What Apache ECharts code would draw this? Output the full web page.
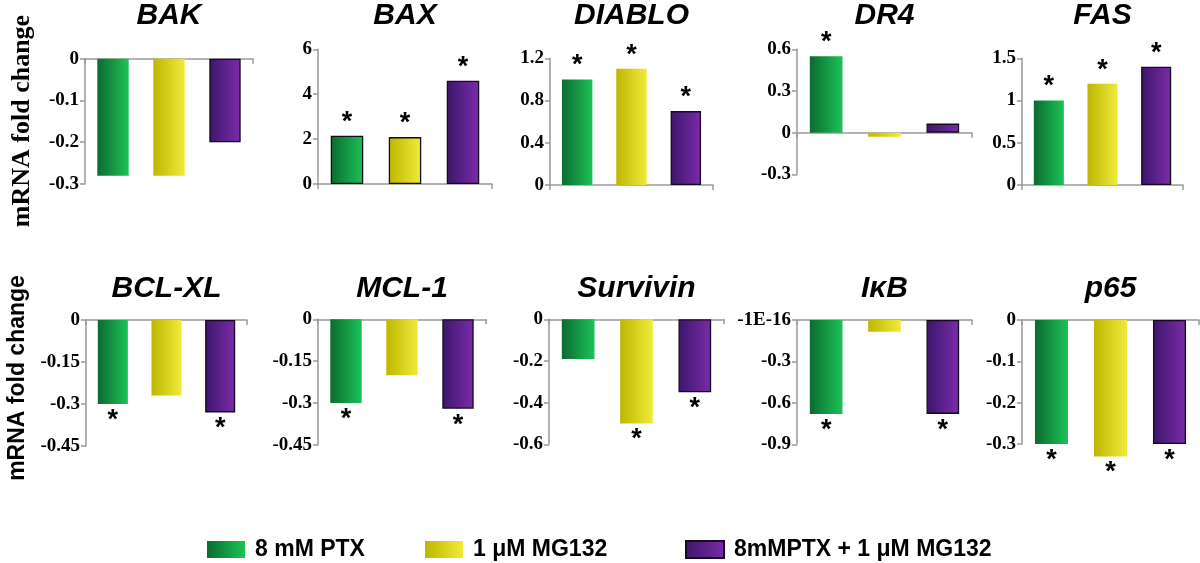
<!DOCTYPE html>
<html>
<head>
<meta charset="utf-8">
<script src="https://cdn.jsdelivr.net/npm/echarts@6/dist/echarts.min.js"></script>
<style>
html,body{margin:0;padding:0;background:#fff;}
#chart{width:1200px;height:563px;}
</style>
</head>
<body>
<div id="chart"></div>
<script>
// ---- data ----
const genes = ['BAK', 'BAX', 'DIABLO', 'DR4', 'FAS', 'BCL-XL', 'MCL-1', 'Survivin', 'IκB', 'p65'];
const treatments = ['8 mM PTX', '1 μM MG132', '8mMPTX + 1 μM MG132'];
const ptxValues   = [-0.28, 2.15, 1.0, 0.55, 1.0, -0.30, -0.30, -0.19, -0.68, -0.30];
const mg132Values = [-0.28, 2.09, 1.1, -0.03, 1.2, -0.27, -0.20, -0.50, -0.085, -0.33];
const comboValues = [-0.20, 4.6, 0.7, 0.065, 1.4, -0.33, -0.32, -0.35, -0.68, -0.30];
const ptxSig   = [false, true, true, true,  true, true,  true,  false, true,  true];
const mg132Sig = [false, true, true, false, true, false, false, true,  false, true];
const comboSig = [false, true, true, false, true, true,  true,  true,  true,  true];
const yMin  = [-0.3, 0, 0, -0.3, 0, -0.45, -0.45, -0.6, -0.9, -0.3];
const yMax  = [0, 6, 1.2, 0.6, 1.5, 0, 0, 0, 0, 0];
const yStep = [0.1, 2, 0.4, 0.3, 0.5, 0.15, 0.15, 0.2, 0.3, 0.1];
const tickLabels = [
  ['0', '-0.1', '-0.2', '-0.3'],
  ['6', '4', '2', '0'],
  ['1.2', '0.8', '0.4', '0'],
  ['0.6', '0.3', '0', '-0.3'],
  ['1.5', '1', '0.5', '0'],
  ['0', '-0.15', '-0.3', '-0.45'],
  ['0', '-0.15', '-0.3', '-0.45'],
  ['0', '-0.2', '-0.4', '-0.6'],
  ['-1E-16', '-0.3', '-0.6', '-0.9'],
  ['0', '-0.1', '-0.2', '-0.3']
];
const yAxisTitle = 'mRNA fold change';

// ---- layout (pixel boxes: x0, x1, y0, y1) ----
const boxes = [
  [85, 253, 58.7, 184], [318, 492, 49.3, 184], [550, 713, 58.3, 185], [797, 972, 49.3, 174.3], [1022, 1183, 58.3, 185],
  [86, 247, 320, 446], [318, 486, 319.3, 445], [549, 724, 319.3, 444.3], [797, 972, 320, 444.3], [1022, 1199, 320, 444]
];

function grad(c1, c2) {
  return new echarts.graphic.LinearGradient(0, 0, 1, 0, [{offset: 0, color: c1}, {offset: 1, color: c2}]);
}
const colors = [grad('#0b6b30', '#1cc257'), grad('#bdb700', '#f0ea3c'), grad('#3b1769', '#7c2bab')];
const valueSets = [ptxValues, mg132Values, comboValues];
const sigSets = [ptxSig, mg132Sig, comboSig];

const grid = [], xAxis = [], yAxis = [], series = [], graphic = [];
const sansFont = '"Liberation Sans", Arial, sans-serif';
const serifFont = '"Liberation Serif", "Times New Roman", serif';

genes.forEach(function (g, p) {
  const b = boxes[p];
  grid.push({left: b[0], top: b[2], width: b[1] - b[0], height: b[3] - b[2], containLabel: false});
  xAxis.push({
    type: 'category', gridIndex: p, data: treatments,
    axisLine: {onZero: true, lineStyle: {color: '#9a9a9a', width: 1.5}},
    axisTick: {show: true, length: 5, lineStyle: {color: '#9a9a9a', width: 1.5}},
    axisLabel: {show: false}, splitLine: {show: false}
  });
  const labels = tickLabels[p];
  yAxis.push({
    type: 'value', gridIndex: p, min: yMin[p], max: yMax[p], interval: yStep[p],
    axisLine: {show: true, lineStyle: {color: '#9a9a9a', width: 1.5}},
    axisTick: {show: true, length: 5, lineStyle: {color: '#9a9a9a', width: 1.5}},
    splitLine: {show: false},
    axisLabel: {
      margin: 6, color: '#000', fontFamily: serifFont, fontWeight: 'bold', fontSize: 19,
      formatter: function (v, idx) { return labels[labels.length - 1 - idx]; }
    }
  });
  const outlineAll = (g === 'BAX');
  treatments.forEach(function (t, k) {
    const v = valueSets[k][p];
    const d = [null, null, null];
    d[k] = {
      value: v,
      label: {
        show: sigSets[k][p], formatter: '*',
        position: v >= 0 ? 'top' : 'bottom', distance: v >= 0 ? 0 : 3,
        fontSize: 27, fontWeight: 'bold', color: '#000', fontFamily: sansFont
      }
    };
    series.push({
      type: 'bar', name: t, xAxisIndex: p, yAxisIndex: p, data: d,
      barGap: '-100%', barWidth: '56%', animation: false, clip: false,
      itemStyle: {
        color: colors[k],
        borderColor: (k === 2 || outlineAll) ? '#150a20' : 'transparent',
        borderWidth: (k === 2 || outlineAll) ? 1.3 : 0
      }
    });
  });
  graphic.push({
    type: 'text', x: (b[0] + b[1]) / 2, y: p < 5 ? 16 : 289,
    style: {text: g, font: 'italic bold 30px ' + sansFont, fill: '#000', textAlign: 'center', textVerticalAlign: 'middle'}
  });
});

graphic.push({
  type: 'text', x: 22, y: 121, rotation: Math.PI / 2,
  style: {text: yAxisTitle, font: 'bold 26px ' + serifFont, fill: '#000', textAlign: 'center', textVerticalAlign: 'middle'}
});
graphic.push({
  type: 'text', x: 18, y: 378, rotation: Math.PI / 2,
  style: {text: yAxisTitle, font: 'bold 23px ' + sansFont, fill: '#000', textAlign: 'center', textVerticalAlign: 'middle'}
});

const legendLefts = [207, 425, 685];
const legend = treatments.map(function (t, k) {
  return {
    data: [t], left: legendLefts[k], top: 538, padding: 0,
    icon: 'rect', itemWidth: 38, itemHeight: 17,
    selectedMode: true,
    textStyle: {fontFamily: sansFont, fontWeight: 'bold', fontSize: 23, color: '#000', padding: [0, 0, 0, 5]}
  };
});

const chart = echarts.init(document.getElementById('chart'), null, {renderer: 'canvas'});
chart.setOption({
  backgroundColor: '#ffffff',
  animation: false,
  grid: grid, xAxis: xAxis, yAxis: yAxis, series: series,
  legend: legend, graphic: graphic
});
</script>
</body>
</html>
